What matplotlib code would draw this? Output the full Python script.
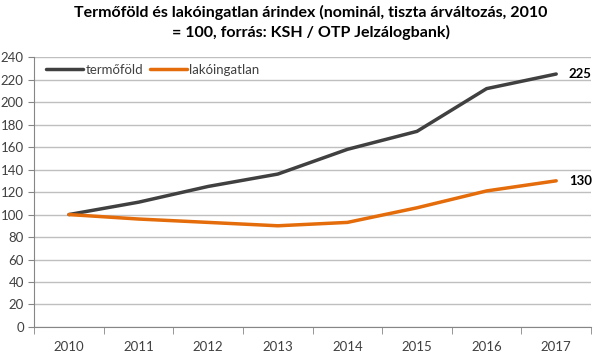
import matplotlib
matplotlib.use("Agg")
import matplotlib.pyplot as plt

years = ["2010", "2011", "2012", "2013", "2014", "2015", "2016", "2017"]
termofold = [100, 111, 125, 136, 158, 174, 212, 225]
lakoingatlan = [100, 96, 93, 90, 93, 106, 121, 130]
yticks = list(range(0, 241, 20))

plt.rcParams['font.family'] = ['Lato', 'DejaVu Sans']

fig = plt.figure(figsize=(6, 3.55), dpi=100)
ax = fig.add_axes([0.057, 0.079, 0.928, 0.760])

x = list(range(len(years)))
ax.plot(x, termofold, color='#404040', lw=2.5, label='termőföld', solid_capstyle='round')
ax.plot(x, lakoingatlan, color='#E46C0A', lw=2.5, label='lakóingatlan', solid_capstyle='round')

ax.text(x[-1] + 0.18, termofold[-1], str(termofold[-1]), fontsize=9.5, fontweight='bold',
        va='center', ha='left', color='black')
ax.text(x[-1] + 0.18, lakoingatlan[-1], str(lakoingatlan[-1]), fontsize=9.5, fontweight='bold',
        va='center', ha='left', color='black')

ax.set_xlim(-0.5, len(years) - 0.5)
ax.set_ylim(0, 240)
ax.set_yticks(yticks)
ax.set_xticks(x)
ax.set_xticklabels(years)
ax.set_xticks([i - 0.5 for i in range(len(years) + 1)], minor=True)
ax.tick_params(axis='x', which='major', length=0, labelsize=9.5, colors='#404040', pad=10)
ax.tick_params(axis='x', which='minor', length=5, color='#868686', direction='out')
ax.tick_params(axis='y', length=4, labelsize=9.5, colors='#404040', color='#868686', direction='out')
ax.grid(axis='y', color='#BFBFBF', lw=1)
ax.set_axisbelow(True)
for s in ['top', 'right']:
    ax.spines[s].set_visible(False)
ax.spines['left'].set_color('#868686')
ax.spines['bottom'].set_color('#868686')

ax.legend(loc='upper left', bbox_to_anchor=(0.0, 1.02), ncol=2, frameon=False, fontsize=9.5,
          handlelength=2.8, handletextpad=0.2, columnspacing=0.5, labelcolor='#404040')

fig.text(0.518, 0.985, "Termőföld és lakóingatlan árindex (nominál, tiszta árváltozás, 2010\n= 100, forrás: KSH / OTP Jelzálogbank)",
         ha='center', va='top', fontsize=11.5, fontweight='bold', linespacing=1.35)

fig.savefig("out.png", dpi=100, facecolor='white')
